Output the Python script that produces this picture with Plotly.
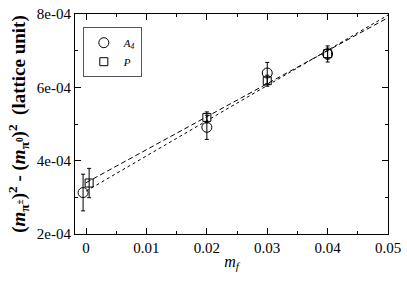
import plotly.graph_objects as go

# Data
a4_x = [-0.0005, 0.02, 0.03, 0.04]
a4_y = [3.13e-4, 4.91e-4, 6.39e-4, 6.91e-4]
a4_err = [0.50e-4, 0.33e-4, 0.29e-4, 0.22e-4]

p_x = [0.0005, 0.02, 0.03, 0.04]
p_y = [3.39e-4, 5.18e-4, 6.18e-4, 6.92e-4]
p_err = [0.40e-4, 0.15e-4, 0.15e-4, 0.15e-4]

fit_x = [0.0, 0.05]
fit_a4 = [3.17e-4, 7.97e-4]
fit_p = [3.40e-4, 7.90e-4]

y_tickvals = [2e-4, 4e-4, 6e-4, 8e-4]
y_ticktext = ["2e-04", "4e-04", "6e-04", "8e-04"]
x_tickvals = [0, 0.01, 0.02, 0.03, 0.04, 0.05]
x_ticktext = ["0", "0.01", "0.02", "0.03", "0.04", "0.05"]

FONT = "Liberation Serif, Times New Roman, Times, serif"

fig = go.Figure()
fig.add_trace(go.Scatter(x=fit_x, y=fit_a4, mode="lines",
                         line=dict(color="black", width=1, dash="dot"),
                         showlegend=False, hoverinfo="skip"))
fig.add_trace(go.Scatter(x=fit_x, y=fit_p, mode="lines",
                         line=dict(color="black", width=1, dash="5px,3px"),
                         showlegend=False, hoverinfo="skip"))
fig.add_trace(go.Scatter(x=a4_x, y=a4_y, mode="markers", name="<i>A<sub>4</sub></i>",
                         marker=dict(symbol="circle-open", size=10, color="black",
                                     line=dict(width=1, color="black")),
                         error_y=dict(type="data", array=a4_err, color="black",
                                      thickness=1, width=2)))
fig.add_trace(go.Scatter(x=p_x, y=p_y, mode="markers", name="<i>P</i>",
                         marker=dict(symbol="square-open", size=8, color="black",
                                     line=dict(width=1, color="black")),
                         error_y=dict(type="data", array=p_err, color="black",
                                      thickness=1, width=2)))

fig.update_layout(
    width=407, height=290,
    margin=dict(l=75, r=15, t=6, b=56),
    paper_bgcolor="white", plot_bgcolor="white",
    font=dict(family=FONT, size=15, color="black"),
    showlegend=True,
    legend=dict(x=0.025, y=0.94, xanchor="left", yanchor="top",
                bordercolor="#555", borderwidth=1, bgcolor="white",
                font=dict(family=FONT, size=11),
                itemwidth=30, tracegroupgap=0),
)
fig.update_xaxes(
    range=[-0.00184, 0.05], showgrid=False, zeroline=False,
    showline=True, linecolor="black", linewidth=1, mirror="ticks",
    ticks="inside", ticklen=6, tickcolor="black",
    tickvals=x_tickvals, ticktext=x_ticktext,
    tickfont=dict(family=FONT, size=15, color="black"),
    ticklabeloverflow="allow",
    minor=dict(dtick=0.005, ticks="inside", ticklen=3, tickcolor="black", showgrid=False),
    title=dict(text="<i>m<sub>f</sub></i>", font=dict(family=FONT, size=16), standoff=0),
)
fig.update_yaxes(
    range=[2e-4, 8e-4], showgrid=False, zeroline=False,
    showline=True, linecolor="black", linewidth=1, mirror="ticks",
    ticks="inside", ticklen=6, tickcolor="black",
    tickvals=y_tickvals, ticktext=y_ticktext,
    tickfont=dict(family=FONT, size=15, color="black"),
    ticklabeloverflow="allow",
    minor=dict(dtick=1e-4, ticks="inside", ticklen=3, tickcolor="black", showgrid=False),
    title=dict(text="<b>(<i>m</i><sub>π<sup>±</sup></sub>)<sup>2</sup> - (<i>m</i><sub>π<sup>0</sup></sub>)<sup>2</sup>  (lattice unit)</b>",
               font=dict(family=FONT, size=19), standoff=6),
)

fig.write_html("out.html", config={"displayModeBar": False},
               post_script="document.body.style.margin='0';")
